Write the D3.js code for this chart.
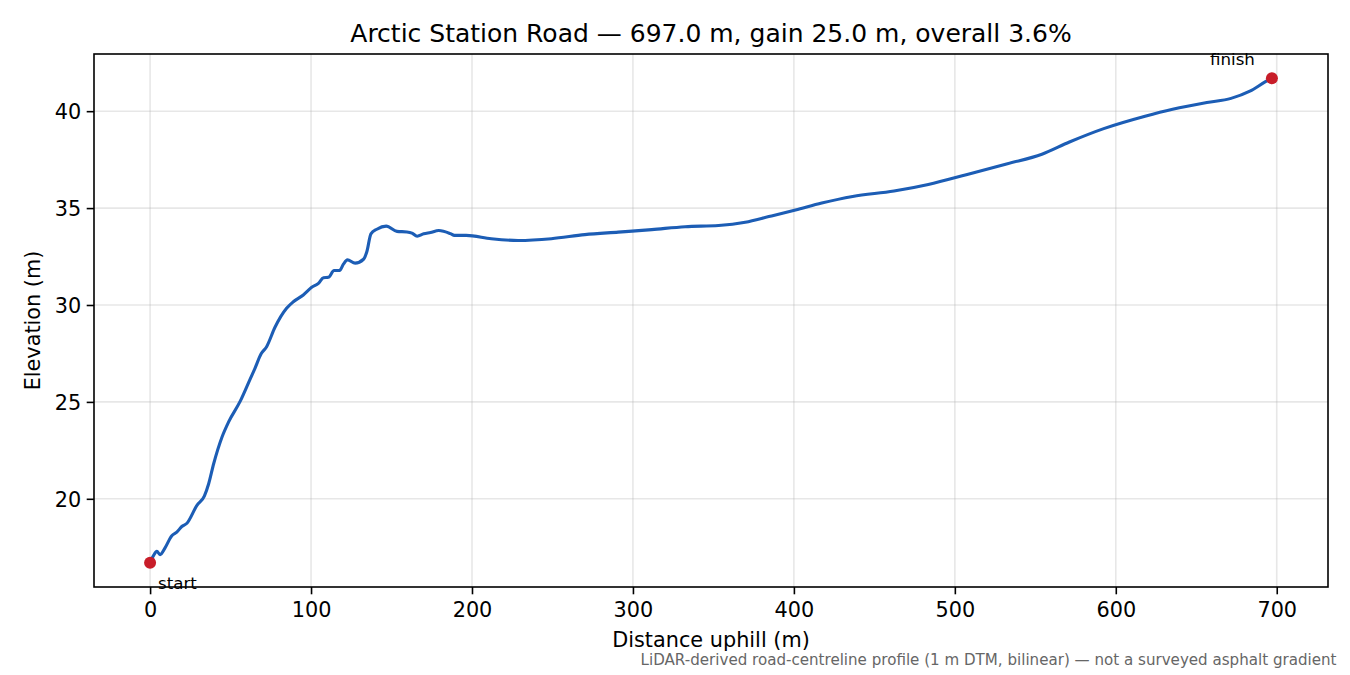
<!DOCTYPE html>
<html>
<head>
<meta charset="utf-8">
<script src="https://cdn.jsdelivr.net/npm/d3@7"></script>
<style>
  html, body { margin: 0; padding: 0; background: #fff; }
  svg { display: block; }
  text { font-family: "DejaVu Sans", sans-serif; }
</style>
</head>
<body>
<svg id="chart" width="1350" height="675"></svg>
<script>
// ---- data ----
const distance = [0, 2.1, 4.2, 6.2, 9.3, 13.5, 16.6, 19.7, 22.9, 29.1, 33.7, 36.4, 39.5, 44.7, 48.8,
  56.1, 62.3, 65.1, 69.0, 72.4, 77.6, 84.8, 89.0, 95.2, 100.4, 104.6, 107.7, 110.8, 114.3, 117.7,
  120.2, 122.6, 127.4, 132.6, 134.7, 137.2, 140.9, 146.7, 153.4, 159.6, 162.7, 165.9, 170.0, 174.2,
  179.4, 186.6, 189.1, 196.4, 212.0, 228.6, 249.3, 270.1, 290.9, 311.7, 332.4, 353.2, 369.8, 384.4,
  401.0, 417.3, 436.5, 462.2, 483.5, 507.1, 532.7, 554.1, 571.2, 592.5, 618.2, 635.3, 656.6, 671.6,
  683.3, 693.0, 697.0];
const elevation = [16.7, 17.07, 17.29, 17.12, 17.47, 18.10, 18.28, 18.57, 18.74, 19.66, 20.14, 20.78, 21.81, 23.19, 23.97,
  25.05, 26.2, 26.72, 27.48, 27.85, 28.85, 29.83, 30.17, 30.52, 30.91, 31.12, 31.41, 31.43, 31.78, 31.78,
  32.12, 32.33, 32.16, 32.36, 32.76, 33.67, 33.91, 34.07, 33.8, 33.77, 33.71, 33.55, 33.67, 33.74,
  33.84, 33.68, 33.59, 33.59, 33.42, 33.33, 33.42, 33.63, 33.76, 33.89, 34.04, 34.1, 34.27, 34.56,
  34.9, 35.26, 35.6, 35.88, 36.22, 36.72, 37.29, 37.78, 38.41, 39.1, 39.74, 40.1, 40.45, 40.66,
  41.03, 41.52, 41.7];
const xTicks = [0, 100, 200, 300, 400, 500, 600, 700];
const yTicks = [20, 25, 30, 35, 40];
const endpointLabels = ["start", "finish"];
const titleText = "Arctic Station Road \u2014 697.0 m, gain 25.0 m, overall 3.6%";
const xLabel = "Distance uphill (m)";
const yLabel = "Elevation (m)";
const footnote = "LiDAR-derived road-centreline profile (1 m DTM, bilinear) \u2014 not a surveyed asphalt gradient";

// ---- layout ----
const L = 94, R = 1328, T = 54, B = 587;
const svg = d3.select("#chart");

const dMin = d3.min(distance), dMax = d3.max(distance);
const eMin = d3.min(elevation), eMax = d3.max(elevation);
const dPad = (dMax - dMin) * 0.05, ePad = (eMax - eMin) * 0.05;

const x = d3.scaleLinear().domain([dMin - dPad, dMax + dPad]).range([L, R]);
const y = d3.scaleLinear().domain([eMin - ePad, eMax + ePad]).range([B, T]);

const pts = distance.map((d, i) => [d, elevation[i]]);

// grid
const grid = svg.append("g");
grid.selectAll("line.vx").data(xTicks).enter().append("line")
  .attr("x1", d => x(d)).attr("x2", d => x(d)).attr("y1", T).attr("y2", B)
  .attr("stroke", "#b0b0b0").attr("stroke-opacity", 0.3).attr("stroke-width", 1.6);
grid.selectAll("line.hy").data(yTicks).enter().append("line")
  .attr("y1", d => y(d)).attr("y2", d => y(d)).attr("x1", L).attr("x2", R)
  .attr("stroke", "#b0b0b0").attr("stroke-opacity", 0.3).attr("stroke-width", 1.6);

// axes
const xAxis = d3.axisBottom(x).tickValues(xTicks).tickSize(7.3).tickPadding(5.5).tickFormat(d3.format("d"));
const yAxis = d3.axisLeft(y).tickValues(yTicks).tickSize(7.3).tickPadding(5.5).tickFormat(d3.format("d"));

const gx = svg.append("g").attr("transform", `translate(0,${B})`).call(xAxis);
const gy = svg.append("g").attr("transform", `translate(${L},0)`).call(yAxis);
[gx, gy].forEach(g => {
  g.select(".domain").remove();
  g.selectAll(".tick line").attr("stroke", "#000").attr("stroke-width", 1.6);
  g.selectAll(".tick text").attr("fill", "#000").style("font-size", "20.8px")
    .style("font-family", "DejaVu Sans, sans-serif");
});
gx.selectAll(".tick text").attr("dy", null).attr("y", 30.4);
gy.selectAll(".tick text").attr("dy", null).attr("y", 7.6);

// line
const line = d3.line().x(d => x(d[0])).y(d => y(d[1])).curve(d3.curveMonotoneX);
svg.append("path").datum(pts).attr("d", line)
  .attr("fill", "none").attr("stroke", "#1c5db5").attr("stroke-width", 3.1)
  .attr("stroke-linejoin", "round").attr("stroke-linecap", "round");

// spines
svg.append("rect").attr("x", L).attr("y", T).attr("width", R - L).attr("height", B - T)
  .attr("fill", "none").attr("stroke", "#000").attr("stroke-width", 1.6);

// endpoints
const ends = [pts[0], pts[pts.length - 1]];
svg.selectAll("circle.end").data(ends).enter().append("circle")
  .attr("cx", d => x(d[0])).attr("cy", d => y(d[1])).attr("r", 6)
  .attr("fill", "#c81d29");

svg.append("text").text(endpointLabels[0])
  .attr("x", x(ends[0][0]) + 8).attr("y", y(ends[0][1]) + 26)
  .style("font-size", "16.67px").attr("fill", "#000");
svg.append("text").text(endpointLabels[1])
  .attr("x", x(ends[1][0]) - 17).attr("y", y(ends[1][1]) - 13)
  .attr("text-anchor", "end")
  .style("font-size", "16.67px").attr("fill", "#000");

// title and labels
svg.append("text").text(titleText).attr("x", (L + R) / 2).attr("y", 41.5)
  .attr("text-anchor", "middle").style("font-size", "25px").attr("fill", "#000");
svg.append("text").text(xLabel).attr("x", (L + R) / 2).attr("y", 646.5)
  .attr("text-anchor", "middle").style("font-size", "20.8px").attr("fill", "#000");
svg.append("text").text(yLabel)
  .attr("transform", `translate(40,${(T + B) / 2}) rotate(-90)`)
  .attr("text-anchor", "middle").style("font-size", "20.8px").attr("fill", "#000");
svg.append("text").text(footnote).attr("x", 1336.5).attr("y", 665)
  .attr("text-anchor", "end").style("font-size", "15.1px").attr("fill", "#666");
</script>
</body>
</html>
